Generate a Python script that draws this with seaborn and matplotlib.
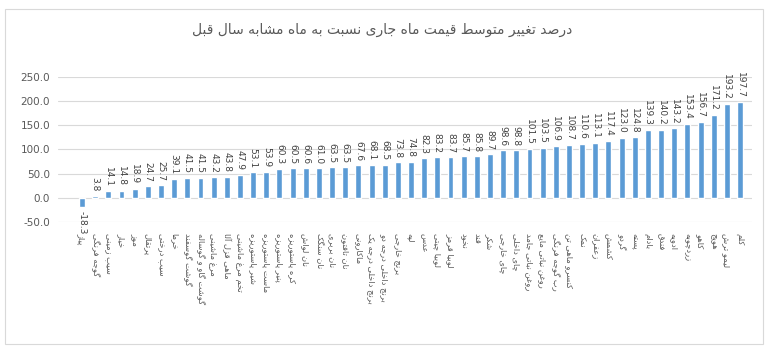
## Year-over-year price change by item (bar chart)

import seaborn as sns
import matplotlib.pyplot as plt
import matplotlib.patches as mpatches

sns.set_style("white")
plt.rcParams["font.family"] = ["DejaVu Sans"]

title = "درصد تغییر متوسط قیمت ماه جاری نسبت به ماه مشابه سال قبل"

items = [
    "پیاز", "گوجه فرنگی", "سیب زمینی", "خیار", "موز", "پرتقال", "سیب درختی",
    "خرما", "گوشت گوسفند", "گوشت گاو و گوساله", "مرغ ماشینی", "ماهی قزل آلا",
    "تخم مرغ ماشینی", "شیر پاستوریزه", "ماست پاستوریزه", "پنیر پاستوریزه",
    "کره پاستوریزه", "نان لواش", "نان سنگک", "نان بربری", "نان تافتون",
    "ماکارونی", "برنج داخلی درجه یک", "برنج داخلی درجه دو", "برنج خارجی",
    "لپه", "عدس", "لوبیا چیتی", "لوبیا قرمز", "نخود", "قند", "شکر",
    "چای خارجی", "چای داخلی", "روغن نباتی جامد", "روغن نباتی مایع",
    "رب گوجه فرنگی", "کنسرو ماهی تن", "نمک", "زعفران", "کشمش", "گردو",
    "پسته", "بادام", "فندق", "ادویه", "زردچوبه", "کاهو", "هویج",
    "لیمو ترش", "کلم",
]

change = [
    -18.3, 3.8, 14.1, 14.8, 18.9, 24.7, 25.7, 39.1, 41.5, 41.5, 43.2, 43.8,
    47.9, 53.1, 53.9, 60.3, 60.5, 60.6, 61.0, 63.5, 63.5, 67.6, 68.1, 68.5,
    73.8, 74.8, 82.3, 83.2, 83.7, 85.7, 85.8, 89.7, 98.6, 98.8, 101.5, 103.5,
    106.9, 108.7, 110.6, 113.1, 117.4, 123.0, 124.8, 139.3, 140.2, 143.2,
    153.4, 156.7, 171.2, 193.2, 197.7,
]

yticks = [-50, 0, 50, 100, 150, 200, 250]

# matplotlib has no Arabic shaping, so map letters to presentation forms
# (isolated, final, initial, medial) and reverse for display
FORMS = {
    "ا": ("\uFE8D", "\uFE8E", None, None),
    "آ": ("\uFE81", "\uFE82", None, None),
    "ب": ("\uFE8F", "\uFE90", "\uFE91", "\uFE92"),
    "پ": ("\uFB56", "\uFB57", "\uFB58", "\uFB59"),
    "ت": ("\uFE95", "\uFE96", "\uFE97", "\uFE98"),
    "ث": ("\uFE99", "\uFE9A", "\uFE9B", "\uFE9C"),
    "ج": ("\uFE9D", "\uFE9E", "\uFE9F", "\uFEA0"),
    "چ": ("\uFB7A", "\uFB7B", "\uFB7C", "\uFB7D"),
    "ح": ("\uFEA1", "\uFEA2", "\uFEA3", "\uFEA4"),
    "خ": ("\uFEA5", "\uFEA6", "\uFEA7", "\uFEA8"),
    "د": ("\uFEA9", "\uFEAA", None, None),
    "ذ": ("\uFEAB", "\uFEAC", None, None),
    "ر": ("\uFEAD", "\uFEAE", None, None),
    "ز": ("\uFEAF", "\uFEB0", None, None),
    "ژ": ("\uFB8A", "\uFB8B", None, None),
    "س": ("\uFEB1", "\uFEB2", "\uFEB3", "\uFEB4"),
    "ش": ("\uFEB5", "\uFEB6", "\uFEB7", "\uFEB8"),
    "ص": ("\uFEB9", "\uFEBA", "\uFEBB", "\uFEBC"),
    "ض": ("\uFEBD", "\uFEBE", "\uFEBF", "\uFEC0"),
    "ط": ("\uFEC1", "\uFEC2", "\uFEC3", "\uFEC4"),
    "ظ": ("\uFEC5", "\uFEC6", "\uFEC7", "\uFEC8"),
    "ع": ("\uFEC9", "\uFECA", "\uFECB", "\uFECC"),
    "غ": ("\uFECD", "\uFECE", "\uFECF", "\uFED0"),
    "ف": ("\uFED1", "\uFED2", "\uFED3", "\uFED4"),
    "ق": ("\uFED5", "\uFED6", "\uFED7", "\uFED8"),
    "ک": ("\uFB8E", "\uFB8F", "\uFB90", "\uFB91"),
    "گ": ("\uFB92", "\uFB93", "\uFB94", "\uFB95"),
    "ل": ("\uFEDD", "\uFEDE", "\uFEDF", "\uFEE0"),
    "م": ("\uFEE1", "\uFEE2", "\uFEE3", "\uFEE4"),
    "ن": ("\uFEE5", "\uFEE6", "\uFEE7", "\uFEE8"),
    "و": ("\uFEED", "\uFEEE", None, None),
    "ه": ("\uFEE9", "\uFEEA", "\uFEEB", "\uFEEC"),
    "ی": ("\uFBFC", "\uFBFD", "\uFBFE", "\uFBFF"),
}


def fa(text):
    out = []
    n = len(text)
    for i, ch in enumerate(text):
        if ch not in FORMS:
            out.append(ch)
            continue
        prev = text[i - 1] if i > 0 else ""
        nxt = text[i + 1] if i < n - 1 else ""
        join_prev = prev in FORMS and FORMS[prev][2] is not None
        join_next = nxt in FORMS and FORMS[ch][2] is not None
        iso, fin, ini, med = FORMS[ch]
        if join_prev and join_next:
            out.append(med)
        elif join_prev:
            out.append(fin)
        elif join_next:
            out.append(ini)
        else:
            out.append(iso)
    return "".join(out)[::-1]


labels = [fa(s) for s in items]

fig = plt.figure(figsize=(7.68, 3.51), dpi=100)
ax = fig.add_axes([0.076, 0.368, 0.903, 0.413])

sns.barplot(x=labels, y=change, color="#5B9BD5", width=0.45, ax=ax,
            saturation=1)

ax.bar_label(ax.containers[0], fmt="%.1f", rotation=-90, padding=3,
             fontsize=6.5, color="#404040")

ax.set_ylim(-50, 250)
ax.set_xlim(-1.8, 50.9)
ax.set_yticks(yticks)
ax.set_yticklabels([f"{v:.1f}" for v in yticks], fontsize=7.5, color="#595959")
ax.tick_params(axis="x", length=0, pad=8)
ax.tick_params(axis="y", length=0, pad=6)
for t in ax.get_xticklabels():
    t.set_rotation(-90)
    t.set_fontsize(6)
    t.set_color("#595959")
    t.set_ha("center")
    t.set_va("top")

ax.grid(axis="y", color="#D9D9D9", linewidth=0.8)
ax.set_axisbelow(True)
sns.despine(ax=ax, left=True, bottom=True)

fig.text(0.497, 0.915, fa(title), ha="center", va="center", fontsize=10,
         color="#595959")

# light frame around the chart area
fig.patches.append(mpatches.Rectangle((0.007, 0.02), 0.986, 0.955,
                                      transform=fig.transFigure, fill=False,
                                      edgecolor="#D9D9D9", linewidth=0.8))

fig.savefig("out.png", dpi=100)
